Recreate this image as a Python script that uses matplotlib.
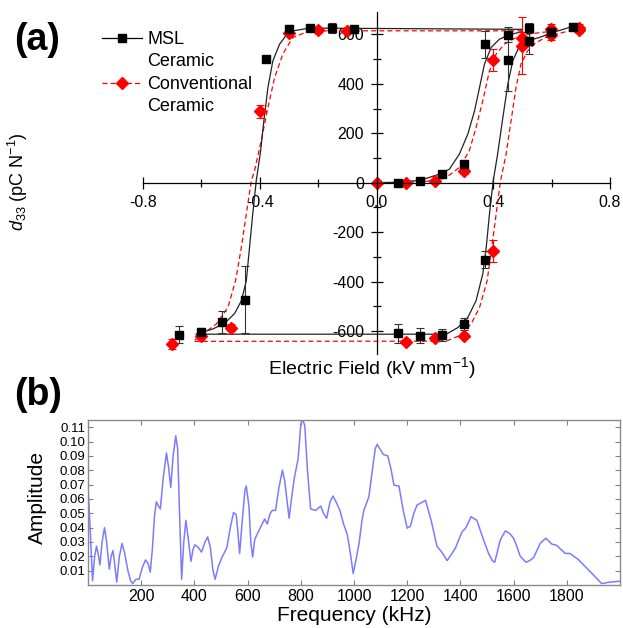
import numpy as np
import matplotlib
matplotlib.use("Agg")
import matplotlib.pyplot as plt
from matplotlib.lines import Line2D

plt.rcParams['font.family'] = ['Liberation Sans', 'DejaVu Sans']
plt.rcParams['mathtext.fontset'] = 'custom'
plt.rcParams['mathtext.rm'] = 'Liberation Sans'
plt.rcParams['mathtext.it'] = 'Liberation Sans:italic'
plt.rcParams['axes.unicode_minus'] = False

# ---- panel (a): d33 vs electric field ----
# measured points (kV/mm, pC/N, error)
msl_E = [-0.677, -0.600, -0.528, -0.452, -0.378, -0.301, -0.227, -0.152, -0.078,
         0.075, 0.150, 0.225, 0.300, 0.373, 0.450, 0.450, 0.524, 0.524, 0.598, 0.672,
         0.075, 0.150, 0.225, 0.300, 0.373]
msl_d = [-614, -605, -564, -473, 500, 621, 625, 627, 621,
         0, 8, 35, 75, 560, 598, 497, 627, 571, 611, 631,
         -609, -618, -614, -571, -311]
msl_err = [35, 20, 45, 135, 12, 15, 10, 20, 10,
           5, 5, 8, 10, 55, 30, 125, 20, 50, 20, 15,
           40, 30, 25, 25, 35]

conv_E = [-0.700, -0.600, -0.500, -0.400, -0.300, -0.200, -0.100,
          0.000, 0.100, 0.200, 0.300, 0.400, 0.498, 0.498, 0.598, 0.598, 0.695, 0.695,
          0.100, 0.200, 0.300, 0.400]
conv_d = [-652, -618, -585, 288, 605, 617, 614,
          0, 0, 8, 46, 496, 585, 553, 621, 598, 627, 619,
          -642, -629, -618, -275]
conv_err = [20, 15, 15, 25, 12, 10, 10,
            5, 5, 5, 10, 44, 25, 115, 20, 20, 15, 15,
            10, 10, 10, 45]

# fitted curves
msl_virgin_E = [0.0, 0.075, 0.15, 0.216, 0.25, 0.284, 0.313, 0.336, 0.353, 0.370, 0.393, 0.421, 0.455, 0.50]
msl_virgin_d = [0, 2, 10, 35, 55, 116, 197, 291, 385, 480, 547, 580, 598, 611]
msl_down_E = [0.50, -0.229, -0.30, -0.332, -0.355, -0.372, -0.386, -0.397, -0.412, -0.424,
              -0.435, -0.446, -0.463, -0.486, -0.52, -0.561, -0.617]
msl_down_d = [620, 625, 611, 560, 493, 385, 250, 129, 8, -126, -261, -396, -477, -528, -568, -591, -611]
msl_up_E = [-0.617, 0.239, 0.279, 0.313, 0.341, 0.364, 0.376, 0.387, 0.40, 0.415, 0.433,
            0.45, 0.467, 0.49, 0.518, 0.558, 0.604, 0.678]
msl_up_d = [-612, -612, -585, -544, -477, -369, -261, -126, 8, 116, 264, 399, 493, 553, 574, 587, 607, 634]

conv_virgin_E = [0.0, 0.1, 0.2, 0.239, 0.284, 0.318, 0.341, 0.364, 0.387, 0.41, 0.438, 0.478, 0.535, 0.60]
conv_virgin_d = [0, 2, 8, 21, 62, 129, 223, 331, 452, 520, 560, 587, 603, 612]
conv_down_E = [0.50, -0.229, -0.287, -0.321, -0.349, -0.372, -0.395, -0.418, -0.429, -0.446,
               -0.463, -0.483, -0.509, -0.549, -0.595, -0.623]
conv_down_d = [614, 614, 587, 520, 425, 304, 170, 48, 8, -126, -261, -396, -504, -571, -611, -636]
conv_up_E = [-0.623, 0.239, 0.284, 0.324, 0.353, 0.379, 0.395, 0.41, 0.425, 0.444, 0.461,
             0.478, 0.495, 0.518, 0.547, 0.592, 0.70]
conv_up_d = [-641, -640, -618, -571, -504, -396, -261, -126, 8, 116, 250, 385, 480, 533, 567, 594, 625]

# ---- panel (b): amplitude spectrum ----
freq = [0, 8, 17, 25, 32, 38, 45, 53, 62, 70, 80, 87, 94, 100, 108, 118, 128, 138, 150, 160,
        168, 180, 192, 204, 216, 226, 234, 242, 250, 257, 265, 272, 283, 295, 303, 311, 320, 330,
        337, 345, 352, 360, 368, 377, 387, 395, 402, 415, 427, 440, 450, 460, 470, 478, 490, 503,
        522, 535, 547, 557, 563, 570, 580, 590, 595, 605, 612, 619, 627, 640, 648, 664, 674, 685,
        693, 705, 718, 731, 740, 756, 765, 775, 790, 800, 806, 815, 825, 837, 856, 875, 885, 897,
        910, 921, 935, 947, 960, 975, 988, 997, 1008, 1019, 1030, 1037, 1056, 1069, 1080, 1087,
        1097, 1110, 1127, 1140, 1150, 1169, 1185, 1200, 1212, 1225, 1237, 1269, 1290, 1312, 1331,
        1350, 1365, 1381, 1406, 1421, 1440, 1462, 1487, 1506, 1520, 1529, 1540, 1550, 1569, 1585,
        1600, 1612, 1625, 1647, 1660, 1675, 1700, 1721, 1744, 1762, 1794, 1812, 1844, 1887, 1931,
        1962, 2000]
amp = [0.068, 0.040, 0.003, 0.020, 0.027, 0.022, 0.014, 0.030, 0.040, 0.030, 0.011, 0.020, 0.024,
       0.015, 0.002, 0.020, 0.029, 0.022, 0.010, 0.003, 0.001, 0.004, 0.004, 0.012, 0.0175, 0.015,
       0.009, 0.025, 0.048, 0.058, 0.055, 0.053, 0.075, 0.092, 0.082, 0.068, 0.090, 0.104, 0.095,
       0.045, 0.004, 0.030, 0.045, 0.032, 0.0165, 0.025, 0.028, 0.026, 0.023, 0.030, 0.0335, 0.026,
       0.010, 0.004, 0.013, 0.019, 0.026, 0.040, 0.0505, 0.049, 0.038, 0.022, 0.045, 0.066, 0.069,
       0.055, 0.030, 0.0195, 0.032, 0.037, 0.040, 0.046, 0.0425, 0.050, 0.052, 0.052, 0.068, 0.080,
       0.072, 0.0465, 0.060, 0.074, 0.088, 0.112, 0.116, 0.111, 0.080, 0.053, 0.052, 0.055, 0.050,
       0.0465, 0.058, 0.062, 0.057, 0.052, 0.043, 0.035, 0.020, 0.008, 0.018, 0.029, 0.045, 0.052,
       0.0615, 0.080, 0.095, 0.098, 0.095, 0.091, 0.090, 0.080, 0.0696, 0.069, 0.052, 0.0396, 0.041,
       0.050, 0.0557, 0.059, 0.045, 0.027, 0.0227, 0.017, 0.021, 0.0257, 0.037, 0.040, 0.0476, 0.045,
       0.0315, 0.022, 0.017, 0.0158, 0.024, 0.0315, 0.0377, 0.036, 0.0326, 0.027, 0.020, 0.0158,
       0.017, 0.019, 0.029, 0.0326, 0.0285, 0.0276, 0.022, 0.022, 0.0176, 0.0095, 0.001, 0.002, 0.0026]

W, H = 623, 628
fig = plt.figure(figsize=(W / 100, H / 100), dpi=100)

# panel (a)
ax = fig.add_axes([143 / W, 1 - 353.5 / H, 467 / W, 341.5 / H])
ax.set_xlim(-0.8, 0.8)
ax.set_ylim(-690, 690)
for s in ['left', 'bottom']:
    ax.spines[s].set_position('zero')
    ax.spines[s].set_linewidth(0.9)
for s in ['top', 'right']:
    ax.spines[s].set_visible(False)
ax.set_xticks([-0.8, -0.4, 0.0, 0.4, 0.8])
ax.set_xticklabels(['-0.8', '-0.4', '0.0', '0.4', '0.8'])
ax.set_xticks([-0.6, -0.2, 0.2, 0.6], minor=True)
ax.set_yticks([-600, -400, -200, 0, 200, 400, 600])
ax.set_yticks(np.arange(-600, 601, 100), minor=True)
ax.tick_params(which='major', direction='inout', length=8, width=0.9, labelsize=11.5, pad=5)
ax.tick_params(which='minor', direction='inout', length=6, width=0.9)
ax.patch.set_visible(False)

ax.plot(conv_virgin_E, conv_virgin_d, color='red', lw=0.9, ls=(0, (4, 2.5)))
ax.plot(conv_down_E, conv_down_d, color='red', lw=0.9, ls=(0, (4, 2.5)))
ax.plot(conv_up_E, conv_up_d, color='red', lw=0.9, ls=(0, (4, 2.5)))
ax.plot(msl_virgin_E, msl_virgin_d, color='#222222', lw=0.9)
ax.plot(msl_down_E, msl_down_d, color='#222222', lw=0.9)
ax.plot(msl_up_E, msl_up_d, color='#222222', lw=0.9)

ax.errorbar(conv_E, conv_d, yerr=conv_err, fmt='D', color='red', ms=6.5,
            ecolor='red', elinewidth=0.8, capsize=3, capthick=0.8)
ax.errorbar(msl_E, msl_d, yerr=msl_err, fmt='s', color='black', ms=6,
            ecolor='#333333', elinewidth=0.8, capsize=3, capthick=0.8)

blank = Line2D([], [], linestyle='none')
h_msl = Line2D([], [], color='black', lw=0.9, marker='s', ms=6)
h_conv = Line2D([], [], color='red', lw=0.9, ls=(0, (4, 2.5)), marker='D', ms=6.5)
fig.legend([h_msl, blank, h_conv, blank], ['MSL', 'Ceramic', 'Conventional', 'Ceramic'],
           loc='upper left', bbox_to_anchor=(102 / W, 1 - 31 / H), frameon=False,
           fontsize=13, handlelength=2.2, handletextpad=0.3, labelspacing=0.3,
           borderpad=0, borderaxespad=0)

fig.text(18 / W, 1 - 182 / H, r'$d_{33}$ (pC N$^{-1}$)', rotation=90, fontsize=13,
         ha='center', va='center')
fig.text(372 / W, 1 - 368 / H, r'Electric Field (kV mm$^{-1}$)', fontsize=14,
         ha='center', va='center')
fig.text(37 / W, 1 - 40 / H, '(a)', fontsize=27, fontweight='bold', ha='center', va='center')

# panel (b)
bx = fig.add_axes([88 / W, 1 - 585 / H, 532 / W, 165 / H])
bx.plot(freq, amp, color='#7b7bff', lw=1.1)
bx.set_xlim(0, 2000)
bx.set_ylim(0, 0.115)
bx.set_xticks(np.arange(200, 1801, 200))
bx.set_yticks(np.arange(0.01, 0.111, 0.01))
bx.yaxis.set_major_formatter(matplotlib.ticker.FormatStrFormatter('%.2f'))
bx.tick_params(axis='both', direction='in', length=3.5, color='#808080',
               top=True, right=True)
bx.tick_params(axis='x', labelsize=11.5, pad=3)
bx.tick_params(axis='y', labelsize=9.5, pad=2)
for s in bx.spines.values():
    s.set_color('#8a8a8a')
    s.set_linewidth(1.0)
bx.set_xlabel('Frequency (kHz)', fontsize=15, labelpad=1)
fig.text(37 / W, 1 - 497 / H, 'Amplitude', rotation=90, fontsize=15, ha='center', va='center')
fig.text(38 / W, 1 - 395 / H, '(b)', fontsize=27, fontweight='bold', ha='center', va='center')

fig.savefig('out.png', dpi=100)
